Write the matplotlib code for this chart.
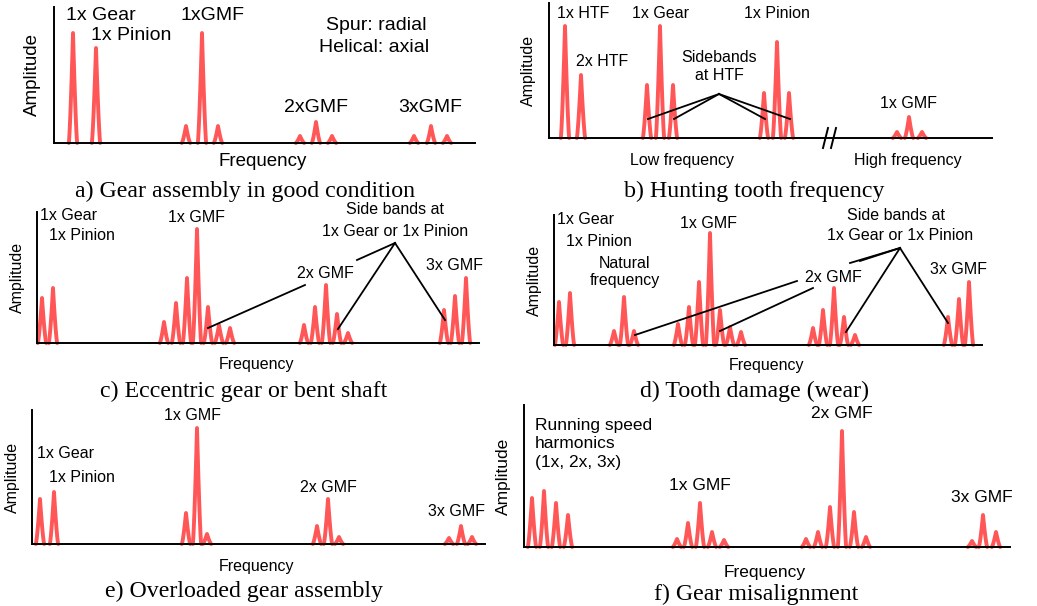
import numpy as np
import matplotlib.pyplot as plt

# Peak positions (frequency, arbitrary units) and amplitudes for each spectrum panel
freq_a = [19, 42, 132, 148, 164, 246, 262, 278, 360, 377, 393]
amp_a = [110, 95, 17, 110, 17, 7, 21, 7, 7, 17, 7]

freq_b = [16, 32, 98, 111, 124, 215, 228, 240, 348, 360, 373]
amp_b = [112, 63, 53, 112, 53, 45, 96, 45, 6, 21, 6]

freq_c = [5, 16, 127, 139, 150, 160, 171, 182, 193, 267, 278, 289, 300, 311, 407, 418, 429]
amp_c = [45, 55, 21, 40, 65, 114, 36, 18, 15, 18, 36, 58, 29, 10, 33, 47, 65]

freq_d = [5, 16, 60, 70, 80, 124, 135, 145, 156, 166, 176, 187, 259, 269, 280, 290, 301, 394, 405, 415]
amp_d = [43, 52, 14, 48, 14, 21, 38, 63, 112, 35, 18, 13, 17, 35, 57, 28, 10, 28, 46, 63]

freq_e = [8, 22, 154, 165, 175, 285, 296, 307, 417, 429, 440]
amp_e = [45, 52, 31, 116, 10, 18, 45, 7, 6, 18, 7]

freq_f = [8, 20, 32, 44, 153, 164, 176, 188, 200, 282, 294, 306, 318, 330, 342, 448, 459, 472]
amp_f = [49, 56, 44, 32, 8, 24, 44, 15, 7, 8, 15, 40, 116, 35, 10, 6, 32, 15]

captions = ['a) Gear assembly in good condition', 'b) Hunting tooth frequency',
            'c) Eccentric gear or bent shaft', 'd) Tooth damage (wear)',
            'e) Overloaded gear assembly', 'f) Gear misalignment']

RED = '#ff5757'
W, H = 1037, 606
SANS = 'Liberation Sans'
SERIF = 'Liberation Serif'

fig = plt.figure(figsize=(W / 100, H / 100), dpi=100)
fig.patch.set_facecolor('white')


def make_axes(x0, x1, ytop, ybase):
    """Axes placed by pixel box; data units are pixels from the origin."""
    ax = fig.add_axes([x0 / W, 1 - ybase / H, (x1 - x0) / W, (ybase - ytop) / H])
    ax.set_xlim(0, x1 - x0)
    ax.set_ylim(0, ybase - ytop)
    ax.set_xticks([])
    ax.set_yticks([])
    for s in ['top', 'right']:
        ax.spines[s].set_visible(False)
    for s in ['left', 'bottom']:
        ax.spines[s].set_linewidth(1.4)
        ax.spines[s].set_color('black')
    ax.patch.set_alpha(0)
    return ax


def draw_peaks(ax, freqs, amps, hw=4.2):
    t = np.linspace(-1, 1, 41)
    shape = (1 - np.abs(t)) ** 1.35
    for f, a in zip(freqs, amps):
        ax.plot(f + hw * t, a * shape, color=RED, lw=2.8, solid_capstyle='round',
                solid_joinstyle='round', clip_on=False)


def label(ax, x, y, s, size=11.5, ha='center', va='center', **kw):
    ax.text(x, y, s, fontsize=size, ha=ha, va=va, family=SANS, clip_on=False, **kw)


def leader(ax, p0, p1):
    ax.plot([p0[0], p1[0]], [p0[1], p1[1]], color='black', lw=1.3, clip_on=False)


def axis_titles(ax, ylab_x, xlab, size=11.5):
    y_mid = ax.get_ylim()[1] / 2
    label(ax, ylab_x, y_mid, 'Amplitude', size=size, rotation=90)
    label(ax, xlab[0], xlab[1], 'Frequency', size=size)


# a) good condition
ax = make_axes(54, 475, 7, 143)
draw_peaks(ax, freq_a, amp_a)
axis_titles(ax, -22, (209, -18), size=13.5)
label(ax, 47, 128, '1x Gear', size=14)
label(ax, 77, 108, '1x Pinion', size=14)
label(ax, 159, 128, '1xGMF', size=14)
label(ax, 322, 117, 'Spur: radial', size=14)
label(ax, 320, 96, 'Helical: axial', size=14)
label(ax, 262, 36, '2xGMF', size=14)
label(ax, 376, 35, '3xGMF', size=14)

# b) hunting tooth frequency
ax = make_axes(549, 992, 3, 138)
draw_peaks(ax, freq_b, amp_b)
ax.spines['bottom'].set_visible(False)
ax.plot([0, 443], [0, 0], color='black', lw=1.4, clip_on=False)
for bx in (274, 282):
    ax.plot([bx, bx + 5], [-10, 10], color='black', lw=1.4, clip_on=False)
label(ax, -21, 68, 'Amplitude', rotation=90)
label(ax, 34, 125, '1x HTF')
label(ax, 53, 76, '2x HTF')
label(ax, 111, 125, '1x Gear')
label(ax, 228, 125, '1x Pinion')
label(ax, 170, 72, 'Sidebands\nat HTF', linespacing=1.25)
label(ax, 359, 35, '1x GMF')
label(ax, 133, -23, 'Low frequency')
label(ax, 359, -23, 'High frequency')
apex = (170, 44)
for i in (2, 4, 5, 7):
    leader(ax, apex, (freq_b[i] + 1, 19))

# c) eccentric gear or bent shaft
ax = make_axes(37, 479, 212, 343)
draw_peaks(ax, freq_c, amp_c)
axis_titles(ax, -20, (220, -21))
label(ax, 3, 128, '1x Gear', ha='left')
label(ax, 12, 107, '1x Pinion', ha='left')
label(ax, 160, 126, '1x GMF')
label(ax, 358, 133, 'Side bands at')
label(ax, 358, 112, '1x Gear or 1x Pinion')
label(ax, 288, 70, '2x GMF')
label(ax, 417, 78, '3x GMF')
leader(ax, (freq_c[6], 15), (268, 58))
apex = (358, 100)
leader(ax, apex, (320, 83))
leader(ax, apex, (freq_c[12] + 1, 14))
leader(ax, apex, (freq_c[14] + 1, 23))

# d) tooth damage
ax = make_axes(554, 982, 215, 345)
draw_peaks(ax, freq_d, amp_d)
axis_titles(ax, -20, (213, -21))
label(ax, 3, 125, '1x Gear', ha='left')
label(ax, 12, 104, '1x Pinion', ha='left')
label(ax, 155, 122, '1x GMF')
label(ax, 71, 73, 'Natural\nfrequency', linespacing=1.25)
label(ax, 342, 130, 'Side bands at')
label(ax, 346, 110, '1x Gear or 1x Pinion')
label(ax, 279, 68, '2x GMF')
label(ax, 404, 75, '3x GMF')
leader(ax, (freq_d[4] + 1, 10), (243, 64))
leader(ax, (freq_d[9], 14), (259, 57))
apex = (346, 97)
leader(ax, apex, (296, 82))
leader(ax, apex, (306, 84))
leader(ax, apex, (freq_d[15] + 2, 13))
leader(ax, apex, (freq_d[17], 22))

# e) overloaded gear assembly
ax = make_axes(32, 485, 410, 544)
draw_peaks(ax, freq_e, amp_e)
axis_titles(ax, -20, (225, -22))
label(ax, 5, 91, '1x Gear', ha='left')
label(ax, 17, 67, '1x Pinion', ha='left')
label(ax, 161, 129, '1x GMF')
label(ax, 296, 57, '2x GMF')
label(ax, 425, 32, '3x GMF')

# f) gear misalignment
ax = make_axes(524, 1010, 405, 547)
draw_peaks(ax, freq_f, amp_f)
axis_titles(ax, -21, (241, -25), size=12.5)
label(ax, 11, 103, 'Running speed\nharmonics\n(1x, 2x, 3x)', size=12.5, ha='left',
      linespacing=1.3)
label(ax, 176, 62, '1x GMF', size=12.5)
label(ax, 318, 133, '2x GMF', size=12.5)
label(ax, 458, 50, '3x GMF', size=12.5)

# captions (figure pixel coordinates)
cap_pos = [(245, 197), (754, 197), (244, 397), (755, 397), (244, 597), (756, 600)]
for (cx, cy), cap in zip(cap_pos, captions):
    fig.text(cx / W, 1 - cy / H, cap, ha='center', va='baseline', fontsize=17.2,
             family=SERIF)

fig.savefig('out.png', dpi=100)
